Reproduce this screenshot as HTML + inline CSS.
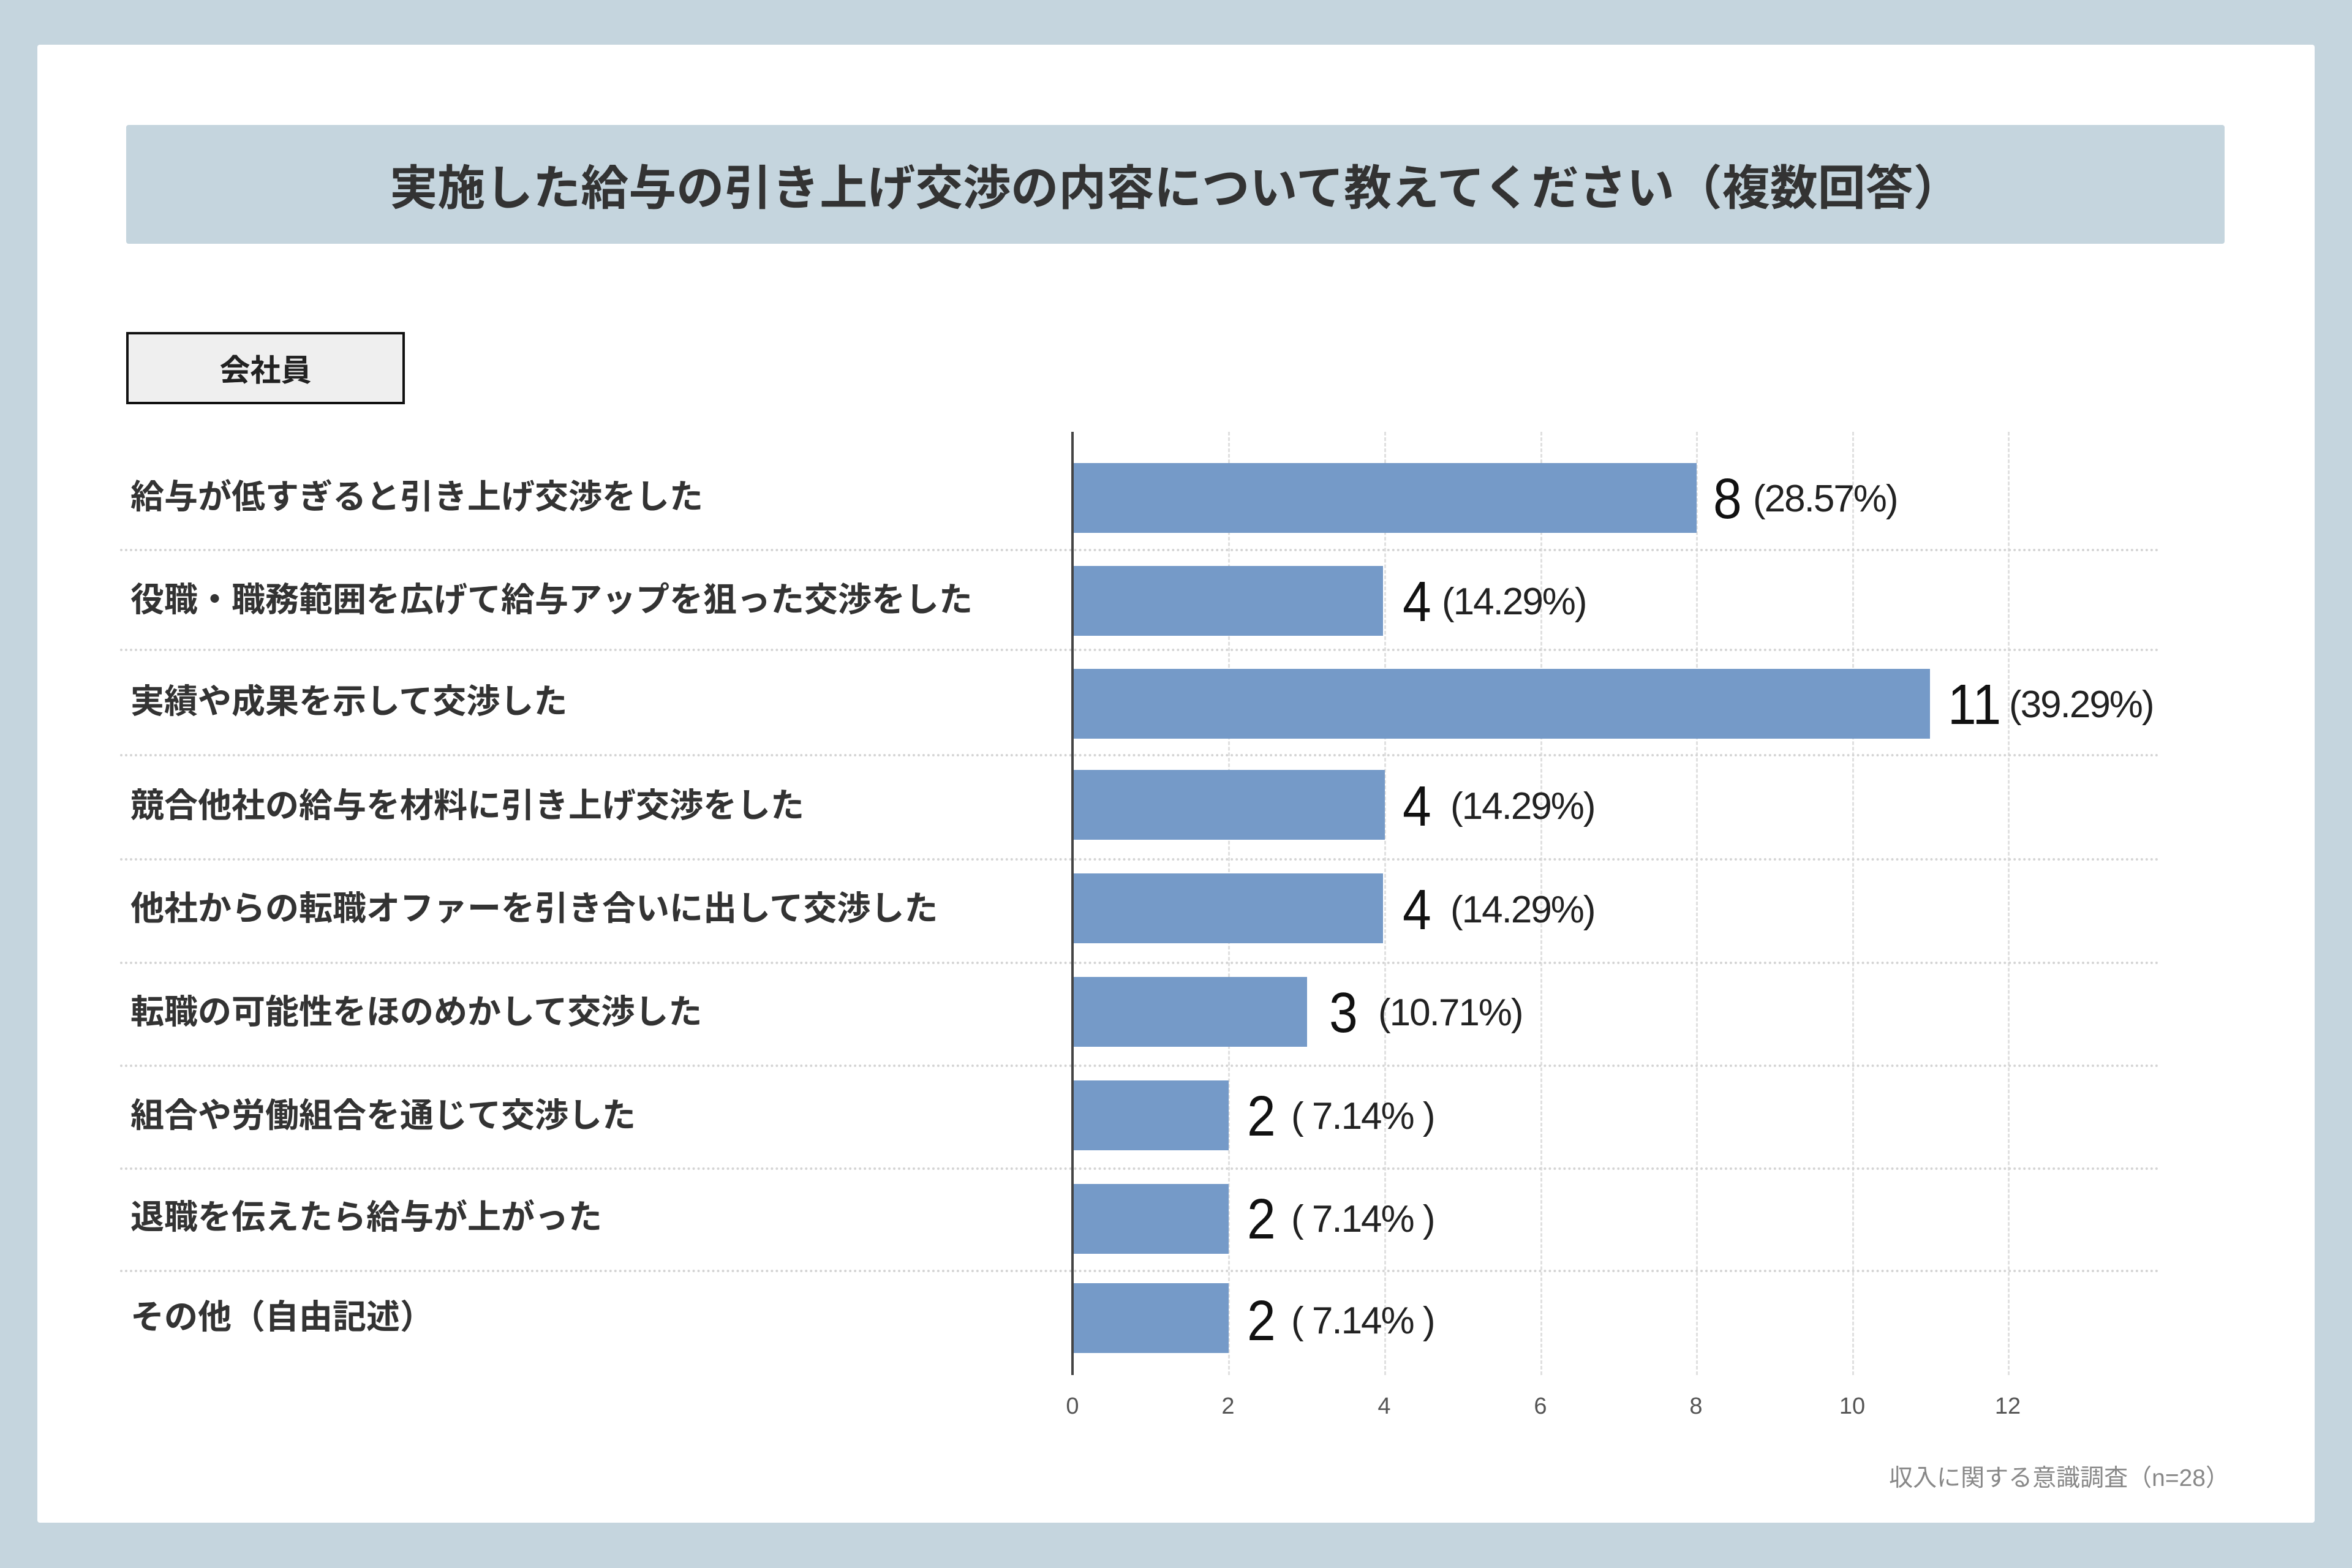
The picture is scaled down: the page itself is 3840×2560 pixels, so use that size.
<!DOCTYPE html>
<html><head><meta charset="utf-8"><style>
body{margin:0;width:3840px;height:2560px;background:#c5d5de;position:relative;overflow:hidden;font-family:"Liberation Sans","Noto Sans CJK JP",sans-serif;}
.card{position:absolute;left:61px;top:73px;width:3718px;height:2413px;background:#fff;border-radius:4px;}
.title{position:absolute;left:206px;top:204px;width:3426px;height:194px;background:#c5d5de;border-radius:4px;display:flex;align-items:center;justify-content:center;font-size:78px;font-weight:bold;color:#333;}
.tag{position:absolute;left:206px;top:542px;width:447px;height:110px;border:4px solid #111;background:#efefef;display:flex;align-items:center;justify-content:center;font-size:50px;font-weight:bold;color:#222;}
.lab{position:absolute;left:213px;font-size:55px;font-weight:bold;color:#333;line-height:1;white-space:nowrap;}
.bar{position:absolute;left:1753px;background:#759ac8;}
.hs{position:absolute;left:196px;width:3331px;border-top:4px dotted #d4d4d4;}
.vg{position:absolute;top:705px;height:1540px;border-left:3px dashed #e0e0e0;}
.num{position:absolute;font-size:84px;color:#111;line-height:1;transform:scaleY(1.1);transform-origin:top left;}
.pct{position:absolute;font-size:62px;color:#222;line-height:1;letter-spacing:-2px;white-space:pre;}
.tick{position:absolute;top:2275px;font-size:38px;color:#555;width:100px;margin-left:-50px;text-align:center;}
</style></head><body>
<div class="card"></div>
<div class="title">実施した給与の引き上げ交渉の内容について教えてください（複数回答）</div>
<div class="tag">会社員</div>

<div class="vg" style="left:2005px"></div>
<div class="vg" style="left:2260px"></div>
<div class="vg" style="left:2515px"></div>
<div class="vg" style="left:2769px"></div>
<div class="vg" style="left:3024px"></div>
<div class="vg" style="left:3278px"></div>

<div class="hs" style="top:896px"></div>
<div class="hs" style="top:1059px"></div>
<div class="hs" style="top:1231px"></div>
<div class="hs" style="top:1401px"></div>
<div class="hs" style="top:1570px"></div>
<div class="hs" style="top:1738px"></div>
<div class="hs" style="top:1906px"></div>
<div class="hs" style="top:2073px"></div>

<div style="position:absolute;left:1749px;top:705px;width:4px;height:1540px;background:#444"></div>

<div class="bar" style="top:756px;height:114px;width:1017px"></div>
<div class="bar" style="top:924px;height:114px;width:505px"></div>
<div class="bar" style="top:1092px;height:114px;width:1398px"></div>
<div class="bar" style="top:1257px;height:114px;width:508px"></div>
<div class="bar" style="top:1426px;height:114px;width:505px"></div>
<div class="bar" style="top:1595px;height:114px;width:381px"></div>
<div class="bar" style="top:1764px;height:114px;width:253px"></div>
<div class="bar" style="top:1933px;height:114px;width:253px"></div>
<div class="bar" style="top:2095px;height:114px;width:253px"></div>

<div class="lab" style="top:784px">給与が低すぎると引き上げ交渉をした</div>
<div class="lab" style="top:952px">役職・職務範囲を広げて給与アップを狙った交渉をした</div>
<div class="lab" style="top:1118px">実績や成果を示して交渉した</div>
<div class="lab" style="top:1288px">競合他社の給与を材料に引き上げ交渉をした</div>
<div class="lab" style="top:1456px">他社からの転職オファーを引き合いに出して交渉した</div>
<div class="lab" style="top:1625px">転職の可能性をほのめかして交渉した</div>
<div class="lab" style="top:1794px">組合や労働組合を通じて交渉した</div>
<div class="lab" style="top:1960px">退職を伝えたら給与が上がった</div>
<div class="lab" style="top:2123px">その他（自由記述）</div>

<div class="num" style="left:2797px;top:768px">8</div><div class="pct" style="left:2862px;top:784px">(28.57%)</div>
<div class="num" style="left:2290px;top:936px">4</div><div class="pct" style="left:2354px;top:952px">(14.29%)</div>
<div class="num" style="left:3180px;top:1104px">11</div><div class="pct" style="left:3280px;top:1120px">(39.29%)</div>
<div class="num" style="left:2290px;top:1270px">4</div><div class="pct" style="left:2368px;top:1286px">(14.29%)</div>
<div class="num" style="left:2290px;top:1439px">4</div><div class="pct" style="left:2368px;top:1455px">(14.29%)</div>
<div class="num" style="left:2170px;top:1607px">3</div><div class="pct" style="left:2250px;top:1623px">(10.71%)</div>
<div class="num" style="left:2036px;top:1776px">2</div><div class="pct" style="left:2108px;top:1792px">( 7.14% )</div>
<div class="num" style="left:2036px;top:1944px">2</div><div class="pct" style="left:2108px;top:1960px">( 7.14% )</div>
<div class="num" style="left:2036px;top:2110px">2</div><div class="pct" style="left:2108px;top:2126px">( 7.14% )</div>

<div class="tick" style="left:1751px">0</div>
<div class="tick" style="left:2005px">2</div>
<div class="tick" style="left:2260px">4</div>
<div class="tick" style="left:2515px">6</div>
<div class="tick" style="left:2769px">8</div>
<div class="tick" style="left:3024px">10</div>
<div class="tick" style="left:3278px">12</div>

<div style="position:absolute;right:200px;top:2382px;font-size:39px;color:#888;">収入に関する意識調査（n=28）</div>
</body></html>
